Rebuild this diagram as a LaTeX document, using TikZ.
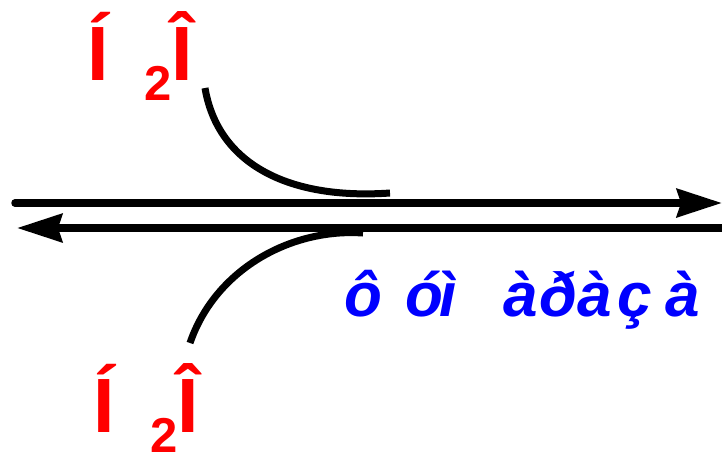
\documentclass[tikz,border=0pt]{standalone}
\usepackage{fontspec}
\setmainfont{Liberation Sans}
\usepackage{tikz}
\usepackage{xcolor}
\usetikzlibrary{arrows.meta}

\begin{document}
\begin{tikzpicture}[x=1pt,y=-1pt,
  reaction/.style={line width=7.5pt,line cap=round,-{Stealth[length=45pt,width=28pt,inset=4pt]}},
  branch/.style={line width=7pt},
  water/.style={text=red,inner sep=0pt,anchor=base west,font=\bfseries\fontsize{77pt}{80pt}\selectfont},
  enzyme/.style={text=blue,inner sep=0pt,anchor=base west,font=\bfseries\itshape\fontsize{62pt}{66pt}\selectfont}]
  \useasboundingbox (0,0) rectangle (722,459);
  % reaction arrows
  \coordinate (fwdstart) at (15,203);
  \coordinate (fwdend) at (722,203);
  \coordinate (revstart) at (722,228);
  \coordinate (revend) at (17,228);
  \draw[reaction] (fwdstart) -- (fwdend);
  \draw[reaction,line cap=butt] (revstart) -- (revend);
  % water in and out
  \node[water] (waterin) at (87,80) {Í\kern36pt\raisebox{-20pt}{\fontsize{49pt}{50pt}\selectfont 2}Î};
  \node[water] (waterout) at (93,432) {Í\kern36pt\raisebox{-20pt}{\fontsize{49pt}{50pt}\selectfont 2}Î};
  \coordinate (instart) at (205,88);
  \coordinate (inend) at (390,193);
  \coordinate (outstart) at (190,343);
  \coordinate (outend) at (363,233);
  \draw[branch] (instart) .. controls (218,165) and (290,200) .. (inend);
  \draw[branch] (outstart) .. controls (215,270) and (290,228) .. (outend);
  % enzyme
  \node[enzyme] (enz) at (344,316) {ô\kern23ptó\kern-3ptì\kern46ptà\kern2ptð\kern0ptà\kern5ptç\kern14ptà};
\end{tikzpicture}
\end{document}
